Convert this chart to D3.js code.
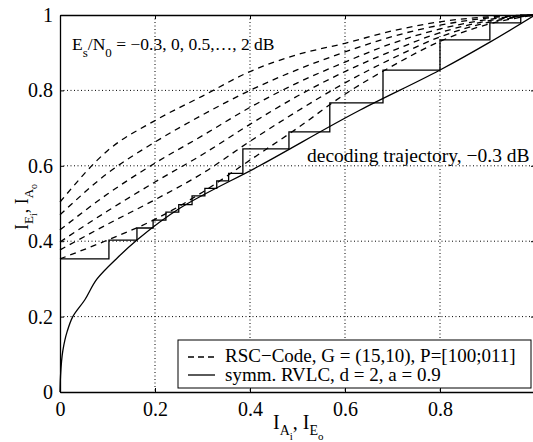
<!DOCTYPE html>
<html>
<head>
<meta charset="utf-8">
<script src="https://cdn.jsdelivr.net/npm/d3@7"></script>
<style>
  body { margin: 0; background: #fff; }
  text { font-family: "Liberation Serif", "Times New Roman", serif; fill: #000; }
</style>
</head>
<body>
<div class="chart"></div>
<script>
// EXIT chart: RSC code curves vs. RVLC curve with decoding trajectory

var svgWidth = 533;
var svgHeight = 442;

var margin = { top: 15, right: -2, bottom: 50, left: 60 };
var width = svgWidth - margin.left - margin.right;
var height = svgHeight - margin.top - margin.bottom;

// ---- data ----
var xTicks = [0, 0.2, 0.4, 0.6, 0.8, 1];
var yTicks = [0, 0.2, 0.4, 0.6, 0.8, 1];

// RSC-Code EXIT curves, Es/N0 = -0.3, 0, 0.5, 1, 1.5, 2 dB
var rscX = [0, 0.1, 0.2, 0.3, 0.4, 0.5, 0.6, 0.7, 0.8, 0.9, 1];
var rscM03 = [0.353, 0.403, 0.458, 0.53, 0.615, 0.70, 0.79, 0.865, 0.93, 0.975, 1];
var rsc00 = [0.377, 0.445, 0.51, 0.58, 0.665, 0.745, 0.82, 0.885, 0.942, 0.98, 1];
var rsc05 = [0.398, 0.48, 0.557, 0.63, 0.71, 0.785, 0.85, 0.905, 0.953, 0.984, 1];
var rsc10 = [0.43, 0.525, 0.607, 0.68, 0.755, 0.82, 0.875, 0.925, 0.963, 0.988, 1];
var rsc15 = [0.47, 0.58, 0.663, 0.735, 0.80, 0.855, 0.902, 0.943, 0.973, 0.992, 1];
var rsc20 = [0.504, 0.64, 0.72, 0.785, 0.85, 0.895, 0.925, 0.958, 0.982, 0.995, 1];

// symm. RVLC curve (axes swapped)
var rvlcX = [0, 0.001, 0.006, 0.015, 0.027, 0.052, 0.078, 0.12, 0.162, 0.253, 0.42, 0.632, 0.8, 0.905, 1];
var rvlcY = [0, 0.04, 0.11, 0.16, 0.2, 0.244, 0.3, 0.355, 0.403, 0.488, 0.6, 0.748, 0.854, 0.928, 1];

// decoding trajectory at -0.3 dB (corner points)
var trajX = [0, 0.103, 0.103, 0.162, 0.162, 0.196, 0.196, 0.223, 0.223, 0.25, 0.25, 0.278, 0.278,
             0.305, 0.305, 0.33, 0.33, 0.355, 0.355, 0.385, 0.385, 0.482, 0.482, 0.568, 0.568,
             0.68, 0.68, 0.8, 0.8, 0.905, 0.905, 0.97, 0.97, 1];
var trajY = [0.353, 0.353, 0.403, 0.403, 0.435, 0.435, 0.456, 0.456, 0.477, 0.477, 0.497, 0.497, 0.52,
             0.52, 0.54, 0.54, 0.56, 0.56, 0.58, 0.58, 0.645, 0.645, 0.69, 0.69, 0.767,
             0.767, 0.854, 0.854, 0.934, 0.934, 0.979, 0.979, 1, 1];

var svg = d3.select(".chart")
  .append("svg")
  .attr("width", svgWidth)
  .attr("height", svgHeight);

svg.append("rect").attr("width", svgWidth).attr("height", svgHeight).attr("fill", "#fff");

var chartGroup = svg.append("g")
  .attr("transform", `translate(${margin.left}, ${margin.top})`);

var xScale = d3.scaleLinear().domain([0, 1]).range([0, width]);
var yScale = d3.scaleLinear().domain([0, 1]).range([height, 0]);

// grid (dotted)
chartGroup.selectAll(".vgrid")
  .data(xTicks.slice(1, -1))
  .enter()
  .append("line")
  .attr("x1", d => xScale(d)).attr("x2", d => xScale(d))
  .attr("y1", 0).attr("y2", height)
  .attr("stroke", "#000").attr("stroke-width", 1)
  .attr("stroke-dasharray", "1,2.5");

chartGroup.selectAll(".hgrid")
  .data(yTicks.slice(1, -1))
  .enter()
  .append("line")
  .attr("y1", d => yScale(d)).attr("y2", d => yScale(d))
  .attr("x1", 0).attr("x2", width)
  .attr("stroke", "#000").attr("stroke-width", 1)
  .attr("stroke-dasharray", "1,2.5");

var line = d3.line()
  .x(d => xScale(d[0]))
  .y(d => yScale(d[1]));

var curve = d3.line()
  .x(d => xScale(d[0]))
  .y(d => yScale(d[1]))
  .curve(d3.curveMonotoneX);

// dashed RSC curves
[rscM03, rsc00, rsc05, rsc10, rsc15, rsc20].forEach(function(ys) {
  chartGroup.append("path")
    .datum(rscX.map((x, i) => [x, ys[i]]))
    .attr("d", curve)
    .attr("fill", "none")
    .attr("stroke", "#000")
    .attr("stroke-width", 1.3)
    .attr("stroke-dasharray", "6,5");
});

// solid RVLC curve
chartGroup.append("path")
  .datum(rvlcX.map((x, i) => [x, rvlcY[i]]))
  .attr("d", d3.line().x(d => xScale(d[0])).y(d => yScale(d[1])).curve(d3.curveMonotoneY))
  .attr("fill", "none")
  .attr("stroke", "#000")
  .attr("stroke-width", 1.3);

// trajectory
chartGroup.append("path")
  .datum(trajX.map((x, i) => [x, trajY[i]]))
  .attr("d", line)
  .attr("fill", "none")
  .attr("stroke", "#000")
  .attr("stroke-width", 1.3);

// axes (MATLAB style, ticks inside, box)
var bottomAxis = d3.axisBottom(xScale).tickValues(xTicks).tickSizeInner(-4).tickSizeOuter(0).tickPadding(10)
  .tickFormat(d => d === 0 ? "0" : (d === 1 ? "" : d3.format(".1f")(d)));
var leftAxis = d3.axisLeft(yScale).tickValues(yTicks).tickSizeInner(-4).tickSizeOuter(0).tickPadding(7)
  .tickFormat(d => (d === 0 || d === 1) ? d3.format("d")(d) : d3.format(".1f")(d));
var topAxis = d3.axisTop(xScale).tickValues(xTicks).tickSizeInner(-4).tickSizeOuter(0).tickFormat("");
var rightAxis = d3.axisRight(yScale).tickValues(yTicks).tickSizeInner(-4).tickSizeOuter(0).tickFormat("");

function styleAxis(g) {
  g.selectAll("path").attr("stroke", "#000").attr("stroke-width", 1.3);
  g.selectAll("line").attr("stroke", "#000").attr("stroke-width", 1);
  g.selectAll("text")
    .attr("font-family", "'Liberation Serif', 'Times New Roman', serif")
    .attr("font-size", "20px")
    .attr("fill", "#000");
}

chartGroup.append("g").attr("transform", `translate(0, ${height})`).call(bottomAxis).call(styleAxis);
chartGroup.append("g").call(leftAxis).call(styleAxis);
chartGroup.append("g").call(topAxis).call(styleAxis);
chartGroup.append("g").attr("transform", `translate(${width}, 0)`).call(rightAxis).call(styleAxis);

// annotation: Es/N0 list
var ann = chartGroup.append("text")
  .attr("x", 12)
  .attr("y", 35)
  .attr("font-size", "17.5px");
ann.append("tspan").text("E");
ann.append("tspan").attr("dy", 7).attr("font-size", "13px").text("s");
ann.append("tspan").attr("dy", -7).text("/N");
ann.append("tspan").attr("dy", 7).attr("font-size", "13px").text("0");
ann.append("tspan").attr("dy", -7).text(" = \u22120.3, 0, 0.5,\u2026, 2 dB");

// annotation: trajectory
chartGroup.append("text")
  .attr("x", 247)
  .attr("y", 147)
  .attr("font-size", "19.5px")
  .text("decoding trajectory, \u22120.3 dB");

// legend
var legend = chartGroup.append("g").attr("transform", "translate(118, 325)");
legend.append("rect")
  .attr("width", 353).attr("height", 48)
  .attr("fill", "#fff").attr("stroke", "#000").attr("stroke-width", 1);
legend.append("line")
  .attr("x1", 10).attr("x2", 37).attr("y1", 17).attr("y2", 17)
  .attr("stroke", "#000").attr("stroke-width", 1.3).attr("stroke-dasharray", "6,4");
legend.append("line")
  .attr("x1", 10).attr("x2", 37).attr("y1", 35).attr("y2", 35)
  .attr("stroke", "#000").attr("stroke-width", 1.3);
legend.append("text").attr("x", 47).attr("y", 22).attr("font-size", "19px")
  .text("RSC\u2212Code, G = (15,10), P=[100;011]");
legend.append("text").attr("x", 47).attr("y", 41).attr("font-size", "19px")
  .text("symm. RVLC, d = 2, a = 0.9");

// axis labels
var xl = chartGroup.append("text")
  .attr("x", 213)
  .attr("y", height + 37)
  .attr("font-size", "20px");
xl.append("tspan").text("I");
xl.append("tspan").attr("dy", 6).attr("font-size", "14px").text("A");
xl.append("tspan").attr("dy", 5).attr("font-size", "11px").text("i");
xl.append("tspan").attr("dy", -11).text(", I");
xl.append("tspan").attr("dy", 6).attr("font-size", "14px").text("E");
xl.append("tspan").attr("dy", 5).attr("font-size", "11px").text("o");

var yl = chartGroup.append("text")
  .attr("transform", "translate(-32, 215) rotate(-90)")
  .attr("font-size", "18px");
yl.append("tspan").text("I");
yl.append("tspan").attr("dy", 5).attr("font-size", "13px").text("E");
yl.append("tspan").attr("dy", 4).attr("font-size", "10px").text("i");
yl.append("tspan").attr("dy", -9).text(", I");
yl.append("tspan").attr("dy", 5).attr("font-size", "13px").text("A");
yl.append("tspan").attr("dy", 4).attr("font-size", "10px").text("o");
</script>
</body>
</html>
